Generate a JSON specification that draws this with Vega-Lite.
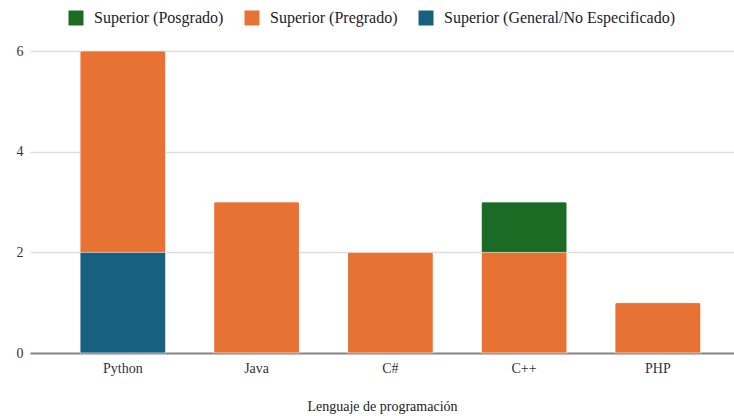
{
  "$schema": "https://vega.github.io/schema/vega-lite/v6.json",
  "autosize": {"type": "none"},
  "width": 704,
  "height": 302,
  "padding": {"left": 30, "top": 51, "right": 0, "bottom": 63},
  "background": "white",
  "config": {
    "font": "Liberation Serif",
    "view": {"stroke": null}
  },
  "data": {
    "values": [
      {"lenguaje": "Python", "nivel": "Superior (General/No Especificado)", "orden": 1, "cantidad": 2},
      {"lenguaje": "Python", "nivel": "Superior (Pregrado)", "orden": 2, "cantidad": 4},
      {"lenguaje": "Java", "nivel": "Superior (Pregrado)", "orden": 2, "cantidad": 3},
      {"lenguaje": "C#", "nivel": "Superior (Pregrado)", "orden": 2, "cantidad": 2},
      {"lenguaje": "C++", "nivel": "Superior (Pregrado)", "orden": 2, "cantidad": 2},
      {"lenguaje": "C++", "nivel": "Superior (Posgrado)", "orden": 3, "cantidad": 1},
      {"lenguaje": "PHP", "nivel": "Superior (Pregrado)", "orden": 2, "cantidad": 1}
    ]
  },
  "mark": {"type": "bar", "stroke": "white", "strokeWidth": 0.6, "strokeOpacity": 0.6, "cornerRadiusEnd": 2},
  "encoding": {
    "x": {
      "field": "lenguaje",
      "type": "nominal",
      "sort": ["Python", "Java", "C#", "C++", "PHP"],
      "scale": {"paddingInner": 0.36, "paddingOuter": 0.312, "align": 0.6},
      "axis": {
        "title": "Lenguaje de programación",
        "titleFont": "Liberation Serif",
        "labelFont": "Liberation Serif",
        "titleFontSize": 14,
        "titleFontWeight": "normal",
        "titleColor": "#222",
        "titlePadding": 24,
        "labelAngle": 0,
        "labelFontSize": 14,
        "labelColor": "#333",
        "labelPadding": 8,
        "ticks": false,
        "domainColor": "#888",
        "domainWidth": 2
      }
    },
    "y": {
      "field": "cantidad",
      "type": "quantitative",
      "stack": "zero",
      "scale": {"domain": [0, 6]},
      "axis": {
        "title": null,
        "values": [0, 2, 4, 6],
        "labelFont": "Liberation Serif",
        "labelFontSize": 14,
        "labelColor": "#333",
        "labelPadding": 7,
        "ticks": false,
        "domain": false,
        "gridColor": "#dddddd",
        "gridWidth": 1.5
      }
    },
    "color": {
      "field": "nivel",
      "type": "nominal",
      "scale": {
        "domain": ["Superior (Posgrado)", "Superior (Pregrado)", "Superior (General/No Especificado)"],
        "range": ["#1c6b25", "#e87234", "#176080"]
      },
      "legend": {
        "orient": "none",
        "legendX": 38,
        "legendY": -41,
        "direction": "horizontal",
        "title": null,
        "symbolType": "square",
        "symbolSize": 225,
        "symbolStrokeWidth": 0,
        "labelFont": "Liberation Serif",
        "labelFontSize": 16,
        "labelLimit": 0,
        "labelOffset": 10,
        "labelColor": "#222",
        "columnPadding": 20
      }
    },
    "order": {"field": "orden", "type": "quantitative"}
  }
}
